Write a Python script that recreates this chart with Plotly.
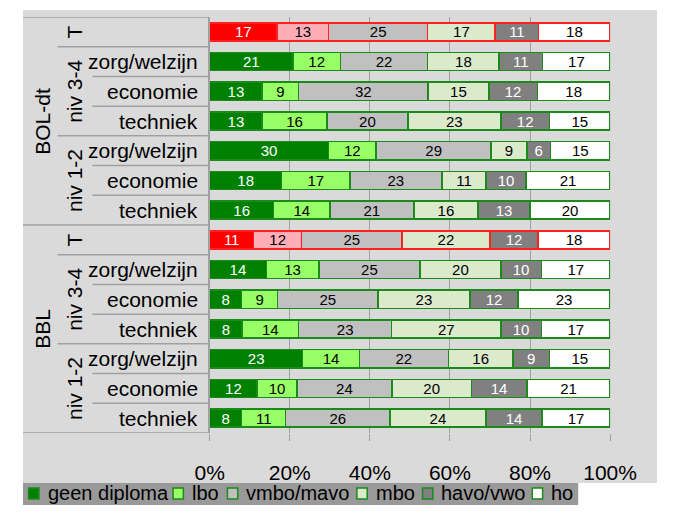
import plotly.graph_objects as go
from itertools import groupby

# the page adds an 8px body margin, so the figure is sized to fit inside it
OX, OY = 8, 8
FW, FH = 676, 497
FONT = "Liberation Sans, Arial, sans-serif"

# row hierarchy (top to bottom)
groups = ["BOL-dt"] * 7 + ["BBL"] * 7
levels = ["T", "niv 3-4", "niv 3-4", "niv 3-4", "niv 1-2", "niv 1-2", "niv 1-2"] * 2
sectors = ["", "zorg/welzijn", "economie", "techniek",
           "zorg/welzijn", "economie", "techniek"] * 2

series = ["geen diploma", "lbo", "vmbo/mavo", "mbo", "havo/vwo", "ho"]
geen_diploma = [17, 21, 13, 13, 30, 18, 16, 11, 14, 8, 8, 23, 12, 8]
lbo = [13, 12, 9, 16, 12, 17, 14, 12, 13, 9, 14, 14, 10, 11]
vmbo_mavo = [25, 22, 32, 20, 29, 23, 21, 25, 25, 25, 23, 22, 24, 26]
mbo = [17, 18, 15, 23, 9, 11, 16, 22, 20, 23, 27, 16, 20, 24]
havo_vwo = [11, 11, 12, 12, 6, 10, 13, 12, 10, 12, 10, 9, 14, 14]
ho = [18, 17, 18, 15, 15, 21, 20, 18, 17, 23, 17, 15, 21, 17]
values = [geen_diploma, lbo, vmbo_mavo, mbo, havo_vwo, ho]

x_ticks = [0, 20, 40, 60, 80, 100]
x_tick_labels = ["0%", "20%", "40%", "60%", "80%", "100%"]

fills = ["#008000", "#99ff66", "#c0c0c0", "#dbeacb", "#808080", "#ffffff"]
fills_t = ["#ff0000", "#ffadb7", "#c0c0c0", "#dbeacb", "#808080", "#ffffff"]
text_colors = ["white", "black", "black", "black", "white", "black"]

BG = "#dadada"
LINE = "#a0a0a0"


def px(x):
    """page pixel x (as measured on the reference) -> paper coords"""
    return (x - OX) / FW


def py(y):
    return 1 - (y - OY) / FH


rows = list(range(len(groups)))
is_t = [lv == "T" for lv in levels]

fig = go.Figure()
for k, name in enumerate(series):
    fig.add_trace(go.Bar(
        name=name,
        orientation="h",
        y=rows,
        x=values[k],
        text=values[k],
        textposition="inside",
        insidetextanchor="middle",
        textangle=0,
        textfont=dict(family=FONT, size=15, color=text_colors[k]),
        marker=dict(
            color=[fills_t[k] if t else fills[k] for t in is_t],
            line=dict(color=["#ff2020" if t else "#1a8a1a" for t in is_t], width=1.5),
        ),
        showlegend=False,
        hoverinfo="skip",
    ))

shapes = [
    # chart background
    dict(type="rect", xref="paper", yref="paper", x0=0, x1=1, y0=py(483), y1=py(10),
         fillcolor=BG, line_width=0, layer="below"),
    # legend band
    dict(type="rect", xref="paper", yref="paper", x0=0, x1=px(600), y0=0, y1=py(483),
         fillcolor="#999999", line_width=0, layer="below"),
]


# separators in the category panel
def sep(y, x0):
    shapes.append(dict(type="line", xref="paper", yref="y", x0=px(x0), x1=px(207),
                       y0=y, y1=y, line=dict(color=LINE, width=1.5)))


sep(-0.5, 8)
sep(len(rows) - 0.5, 8)
for i in rows[1:]:
    if groups[i] != groups[i - 1]:
        sep(i - 0.5, 8)
    elif levels[i] != levels[i - 1]:
        sep(i - 0.5, 45)
    else:
        sep(i - 0.5, 82)

annotations = []
for i in rows:
    if sectors[i]:
        annotations.append(dict(x=px(197), y=i, xref="paper", yref="y", text=sectors[i],
                                xanchor="right", yanchor="middle", showarrow=False,
                                font=dict(family=FONT, size=21, color="black")))

idx = 0
for key, grp in groupby(zip(groups, levels)):
    n = len(list(grp))
    annotations.append(dict(x=px(63), y=idx + (n - 1) / 2, xref="paper", yref="y",
                            text=key[1], textangle=-90, showarrow=False,
                            xanchor="center", yanchor="middle",
                            font=dict(family=FONT, size=21, color="black")))
    idx += n

idx = 0
for key, grp in groupby(groups):
    n = len(list(grp))
    annotations.append(dict(x=px(28), y=idx + (n - 1) / 2, xref="paper", yref="y",
                            text=key, textangle=-90, showarrow=False,
                            xanchor="center", yanchor="middle",
                            font=dict(family=FONT, size=21, color="black")))
    idx += n

# hand-made legend to get the compact Excel look
legend_x = [14, 168, 226, 364, 434, 551]
for k, name in enumerate(series):
    x0 = legend_x[k]
    shapes.append(dict(type="rect", xref="paper", yref="paper",
                       x0=px(x0), x1=px(x0 + 11), y0=py(499), y1=py(488),
                       fillcolor=fills[k], line=dict(color="#1a8a1a", width=1.5)))
    annotations.append(dict(x=px(x0 + 18), y=py(493), xref="paper", yref="paper",
                            text=name, xanchor="left", yanchor="middle", showarrow=False,
                            font=dict(family=FONT, size=20, color="black")))

fig.update_layout(
    width=FW,
    height=FH,
    margin=dict(l=0, r=0, t=0, b=0),
    paper_bgcolor="white",
    plot_bgcolor=BG,
    barmode="stack",
    barnorm="percent",
    bargap=0.39,
    uniformtext=dict(minsize=15, mode="show"),
    shapes=shapes,
    annotations=annotations,
    xaxis=dict(
        domain=[px(207), px(634)],
        range=[0, 100],
        tickmode="array",
        tickvals=x_ticks,
        ticktext=x_tick_labels,
        showgrid=True,
        gridcolor=LINE,
        gridwidth=1,
        zeroline=False,
        ticks="outside",
        ticklen=7,
        tickcolor=LINE,
        ticklabelstandoff=14,
        tickfont=dict(family=FONT, size=21, color="black"),
        fixedrange=True,
    ),
    yaxis=dict(
        domain=[py(433), py(17)],
        range=[len(rows) - 0.5, -0.5],
        showticklabels=False,
        showgrid=False,
        zeroline=False,
        showline=True,
        linecolor=LINE,
        linewidth=1.5,
        fixedrange=True,
    ),
)

fig.write_html("out.html")
